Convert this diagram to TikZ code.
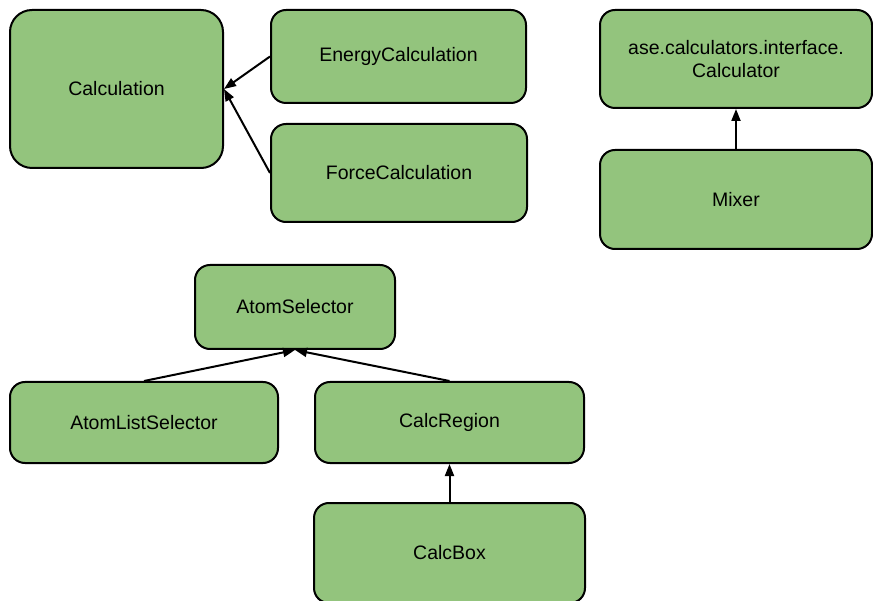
\documentclass[tikz,border=0pt]{standalone}
\usepackage{fontspec}
\setmainfont{Liberation Sans}
\usetikzlibrary{arrows.meta}
\definecolor{umlgreen}{RGB}{147,196,125}
\tikzset{
  cls/.style={draw, line width=2pt, fill=umlgreen, rounded corners=15pt,
    font=\fontsize{19.5}{23}\selectfont, align=center, inner sep=0pt},
  inherit/.style={-{Triangle[length=12pt,width=9pt]}, line width=2pt}
}

\begin{document}
\begin{tikzpicture}[x=1pt, y=-1pt]
			\useasboundingbox (0,0) rectangle (873,601);
			\clip (0,0) rectangle (873,601);
			
			\node[cls, rounded corners=22pt, minimum width=213pt, minimum height=158pt] (calc) at (116.5,89) {Calculation};
			\node[cls, minimum width=255pt, minimum height=93pt] (energy) at (398.5,56.5) {EnergyCalculation};
			\node[cls, minimum width=256pt, minimum height=98pt] (force) at (399,173) {ForceCalculation};
			
			\node[cls, minimum width=272pt, minimum height=98pt] (calculator) at (736,59) {ase.calculators.interface.\\Calculator};
			\node[cls, minimum width=272pt, minimum height=99pt] (mixer) at (736,199.5) {Mixer};
			
			\node[cls, minimum width=200pt, minimum height=84pt] (atomsel) at (295,307) {AtomSelector};
			\node[cls, minimum width=268pt, minimum height=81pt] (atomlist) at (144,422.5) {AtomListSelector};
			\node[cls, minimum width=269pt, minimum height=81pt] (region) at (449.5,422.5) {CalcRegion};
			\node[cls, minimum width=271pt, minimum height=100pt] (box) at (449.5,553) {CalcBox};
			
			\draw[inherit] (energy.west) -- (calc.east);
			\draw[inherit] (force.west) -- (calc.east);
			\draw[inherit] (mixer.north) -- (calculator.south);
			\draw[inherit] (atomlist.north) -- (atomsel.south);
			\draw[inherit] (region.north) -- (atomsel.south);
			\draw[inherit] (box.north) -- (region.south);
		\end{tikzpicture}
\end{document}
